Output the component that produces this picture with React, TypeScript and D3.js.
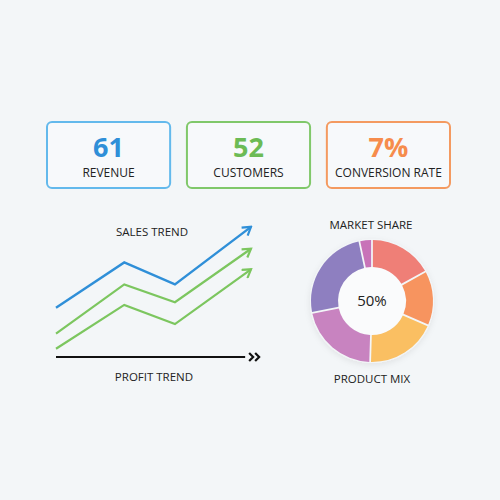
import React from "react";
import * as d3 from "d3";

const kpiValues = ["61", "52", "7%"];
const kpiLabels = ["REVENUE", "CUSTOMERS", "CONVERSION RATE"];
const kpiStroke = ["#63b9ec", "#80c86a", "#f49a60"];
const kpiText = ["#2f8fd8", "#6cbb55", "#f68c4c"];

const trendX = [0, 35, 61, 100];
const salesY = [36, 69, 53, 95];
const green1Y = [17, 53, 40, 79];
const green2Y = [6, 38, 24, 64];

const shareLabels = ["A", "B", "C", "D", "E", "F"];
const shareValues = [17, 14.5, 19, 21.5, 25, 3];
const shareColors = ["#ef7f77", "#f7945f", "#fabf62", "#c883c0", "#8e7fc0", "#c873b8"];

const FONT = "'Open Sans', 'Noto Sans', sans-serif";

export default function App() {
  const W = 500, H = 500;
  const x = d3.scaleLinear().domain([0, 100]).range([56, 251]);
  const y = d3.scaleLinear().domain([0, 100]).range([357, 220]);
  const line = d3.line<number>().x((_, i) => x(trendX[i])).y((d) => y(d));

  const pie = d3.pie<number>().sort(null).padAngle(0.025);
  const arcs = pie(shareValues);
  const arc = d3.arc<d3.PieArcDatum<number>>().innerRadius(34).outerRadius(61);
  const cx = 372, cy = 301;

  const cardX = d3.scaleBand<number>().domain([0, 1, 2]).range([47, 450]).paddingInner(0.12);

  const axisEnd = x(97);
  return (
    <svg width={W} height={H} style={{ position: "absolute", left: 0, top: 0, background: "#f3f6f8" }}>
      <defs>
        <marker id="arrB" viewBox="0 0 12 12" refX="10" refY="6" markerWidth="12" markerHeight="12" markerUnits="userSpaceOnUse" orient="auto">
          <path d="M2,1 L10,6 L2,11" fill="none" stroke="#2f8fd8" strokeWidth="2.2" />
        </marker>
        <marker id="arrG" viewBox="0 0 12 12" refX="10" refY="6" markerWidth="12" markerHeight="12" markerUnits="userSpaceOnUse" orient="auto">
          <path d="M2,1 L10,6 L2,11" fill="none" stroke="#7cc65f" strokeWidth="2.2" />
        </marker>
        <filter id="sh" x="-20%" y="-20%" width="140%" height="140%">
          <feDropShadow dx="0" dy="2" stdDeviation="3" floodColor="#000" floodOpacity="0.08" />
        </filter>
      </defs>
      <rect width={W} height={H} fill="#f3f6f8" />
      {kpiValues.map((v, i) => {
        const bx = cardX(i)!;
        const bw = cardX.bandwidth();
        return (
          <g key={i}>
            <rect x={bx} y={122} width={bw} height={66} rx={5} fill="#f7f9fb" stroke={kpiStroke[i]} strokeWidth={2} />
            <text x={bx + bw / 2} y={157} textAnchor="middle" fontFamily={FONT} fontWeight={700} fontSize={27} fill={kpiText[i]}>{v}</text>
            <text x={bx + bw / 2} y={176.5} textAnchor="middle" fontFamily={FONT} fontSize={12} fill="#222">{kpiLabels[i]}</text>
          </g>
        );
      })}

      <text x={152} y={236} textAnchor="middle" fontFamily={FONT} fontSize={11.5} fill="#222">SALES TREND</text>
      <path d={line(salesY)!} fill="none" stroke="#2f8fd8" strokeWidth={2.4} markerEnd="url(#arrB)" />
      <path d={line(green1Y)!} fill="none" stroke="#7cc65f" strokeWidth={2.2} markerEnd="url(#arrG)" />
      <path d={line(green2Y)!} fill="none" stroke="#7cc65f" strokeWidth={2.2} markerEnd="url(#arrG)" />
      <line x1={x(0)} x2={axisEnd} y1={y(0)} y2={y(0)} stroke="#111" strokeWidth={2} />
      {[0, 6].map((o) => (
        <path key={o} d={`M${axisEnd + 4 + o},${y(0) - 4} L${axisEnd + 8 + o},${y(0)} L${axisEnd + 4 + o},${y(0) + 4}`} fill="none" stroke="#111" strokeWidth={2.2} />
      ))}
      <text x={154} y={381} textAnchor="middle" fontFamily={FONT} fontSize={11.5} fill="#222">PROFIT TREND</text>

      <text x={371} y={229} textAnchor="middle" fontFamily={FONT} fontSize={11.5} fill="#222">MARKET SHARE</text>
      <g transform={`translate(${cx},${cy})`}>
        <circle r={62} fill="#f3f6f8" filter="url(#sh)" />
        <circle r={34} fill="#fafbfc" />
        {arcs.map((a, i) => (
          <path key={shareLabels[i]} d={arc(a)!} fill={shareColors[i]} />
        ))}
        <text y={5} textAnchor="middle" fontFamily={FONT} fontSize={15} fill="#222">50%</text>
      </g>
      <text x={372} y={383} textAnchor="middle" fontFamily={FONT} fontSize={11.5} fill="#222">PRODUCT MIX</text>
    </svg>
  );
}
